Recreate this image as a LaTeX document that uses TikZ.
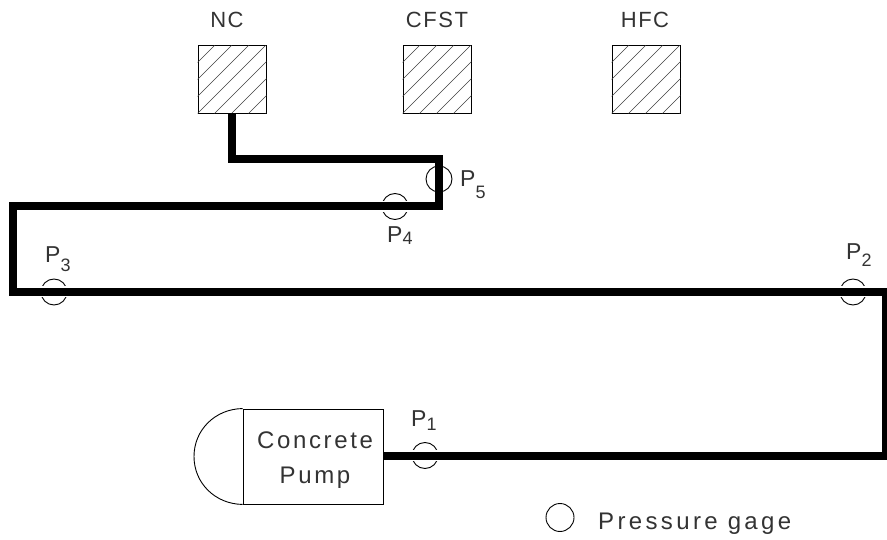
\documentclass[tikz,border=0pt]{standalone}
\usepackage{fontspec}
\setmainfont[LetterSpace=7]{Liberation Sans}
\newfontfamily\widefont[LetterSpace=14]{Liberation Sans}
\newfontfamily\pumpfont[LetterSpace=11]{Liberation Sans}
\usetikzlibrary{calc}
% digit, kern, drop
\newcommand{\psub}[3]{P\kern#2pt\raisebox{-#3pt}{\fontsize{18}{18}\selectfont #1}}
\tikzset{
  x=1pt,y=-1pt,
  lbl/.style={inner sep=0pt,font=\fontsize{22}{24}\selectfont,text=black!80},
  plbl/.style={lbl,anchor=base west,font=\fontsize{23}{24}\selectfont},
  tank/.style={draw=black,line width=0.9pt,minimum width=68pt,minimum height=68pt,inner sep=0pt},
  hatchline/.style={black!75,line width=0.6pt},
  pipe/.style={line width=8pt,line join=miter},
  halo/.style={white,line width=11pt},
  gauge/.style={circle,draw=black,line width=0.9pt,minimum size=26pt,inner sep=0pt},
  pumpbox/.style={draw=black,line width=0.9pt,minimum width=140pt,minimum height=95pt,inner sep=0pt},
  pumptext/.style={inner sep=0pt,font=\pumpfont\fontsize{24}{35}\selectfont,text=black!80,align=center},
}
\newcommand{\hatchtank}[1]{%
  \begin{scope}
    \clip (#1.south west) rectangle (#1.north east);
    \foreach \d in {-51,-34,-17,0,17,34,51,68,85}{
      \draw[hatchline] ($(#1.south west)+(\d,0)$) -- ++(68,-68);
    }
  \end{scope}}
\begin{document}
\begin{tikzpicture}
\useasboundingbox (0,0) rectangle (887,540);
\clip (0,0) rectangle (887,540);
% tanks
\node[tank] (nc) at (232,79) {};
\node[tank] (cfst) at (437,79) {};
\node[tank] (hfc) at (646,79) {};
\hatchtank{nc}\hatchtank{cfst}\hatchtank{hfc}
\node[lbl] (ncl) at (227,20) {NC};
\node[lbl] (cfstl) at (437,20) {CFST};
\node[lbl] (hfcl) at (645,20) {HFC};
% pump
\node[pumpbox] (pump) at (313,456.5) {};
\node[pumptext] (pumpl) at (315,460) {Concrete\\Pump};
\draw[line width=0.9pt] (pump.north west) .. controls (215,409) and (194,430) .. (194,456.5) .. controls (194,483) and (215,504) .. (pump.south west);
% gauges (under pipe)
\node[gauge] (g1) at (425,455.5) {};
\node[gauge] (g2) at (853,292) {};
\node[gauge] (g3) at (54,292) {};
\node[gauge] (g4) at (395,206.5) {};
\node[gauge] (g5) at (439,179) {};
\node[gauge,minimum size=28pt] (leg) at (560,517.5) {};
\foreach \g in {g1,g2,g3,g4}{\draw[halo] (\g.west) -- (\g.east);}
% pipe
\coordinate (c1) at (232,159);
\coordinate (c2) at (439,159);
\coordinate (c3) at (439,206.5);
\coordinate (c4) at (12.5,206.5);
\coordinate (c5) at (12.5,292);
\coordinate (c6) at (886,292);
\coordinate (c7) at (886,455.5);
\draw[pipe] (nc.south) -- (c1) -- (c2) -- (c3) -- (c4) -- (c5) -- (c6) -- (c7) -- (pump.east |- c7);
% labels
\node[plbl] (p1) at (411,426) {\psub{1}{0}{4}};
\node[plbl] (p2) at (846,260) {\psub{2}{0}{7}};
\node[plbl] (p3) at (45,263) {\psub{3}{0}{9}};
\node[plbl] (p4) at (387,243) {\psub{4}{0}{2}};
\node[plbl] (p5) at (460,187) {\psub{5}{0}{12}};
\node[lbl,anchor=base west,font=\widefont\fontsize{24}{24}\selectfont] (legl) at (598,529) {Pressure gage};
\end{tikzpicture}
\end{document}
